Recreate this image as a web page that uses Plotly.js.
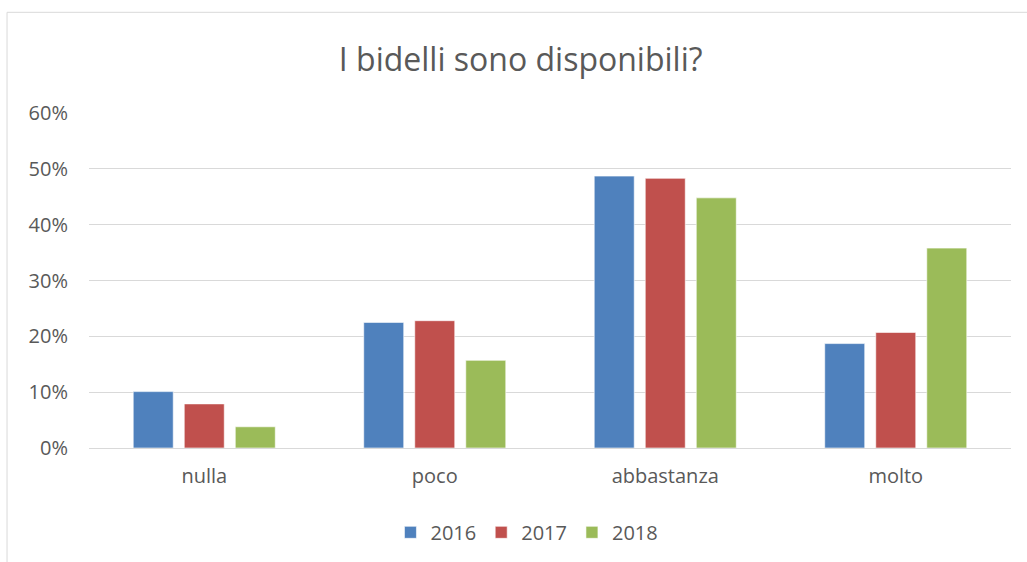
<!DOCTYPE html>
<html>
<head>
<meta charset="utf-8">
<script src="https://cdn.plot.ly/plotly-3.0.1.min.js"></script>
<style>html,body{margin:0;padding:0;background:#fff;}#chart{width:1027px;height:562px;}</style>
</head>
<body>
<div id="chart"></div>
<script>
const categories = ["nulla", "poco", "abbastanza", "molto"];
const seriesNames = ["2016", "2017", "2018"];
const values2016 = [0.101, 0.225, 0.487, 0.187];
const values2017 = [0.079, 0.228, 0.483, 0.207];
const values2018 = [0.038, 0.157, 0.448, 0.358];
const yTicks = [0, 0.1, 0.2, 0.3, 0.4, 0.5, 0.6];
const yTickLabels = ["0%", "10%", "20%", "30%", "40%", "50%", "60%"];
const colors = ["#4F81BD", "#C0504D", "#9BBB59"];

const allValues = [values2016, values2017, values2018];
const traces = allValues.map((vals, i) => ({
  type: "bar",
  name: seriesNames[i],
  x: categories,
  y: vals,
  marker: {color: colors[i], line: {color: "rgba(255,255,255,0.6)", width: 1}},
  hoverinfo: "x+y+name"
}));

const font = {family: "Open Sans, Liberation Sans, sans-serif", color: "#595959", size: 20};

const layout = {
  width: 1027,
  height: 562,
  margin: {l: 89, r: 16, t: 113, b: 113},
  paper_bgcolor: "#ffffff",
  plot_bgcolor: "#ffffff",
  font: font,
  title: {
    text: "I bidelli sono disponibili?",
    font: {family: "Open Sans, Liberation Sans, sans-serif", size: 32, color: "#595959"},
    x: 0.507, xanchor: "center",
    y: 0.893, yanchor: "middle"
  },
  barmode: "group",
  bargap: 0.336,
  bargroupgap: 0.216,
  xaxis: {
    type: "category",
    showgrid: false,
    showline: true,
    linecolor: "#D9D9D9",
    linewidth: 1,
    ticks: "",
    tickfont: font,
    ticklabelstandoff: 10,
    fixedrange: true
  },
  yaxis: {
    range: [0, 0.6],
    tickvals: yTicks,
    ticktext: yTickLabels,
    showgrid: true,
    gridcolor: "#D9D9D9",
    gridwidth: 1,
    zeroline: false,
    showline: false,
    ticks: "",
    ticklen: 0,
    tickfont: font,
    ticklabelstandoff: 20,
    fixedrange: true,
    automargin: false
  },
  showlegend: true,
  legend: {
    orientation: "h",
    x: 0.475, xanchor: "center",
    y: -0.248, yanchor: "middle",
    font: font,
    itemwidth: 30,
    traceorder: "normal"
  },
  shapes: [{
    type: "rect",
    xref: "paper", yref: "paper",
    x0: -0.0889, x1: 1.05,
    y0: -0.4, y1: 1.3006,
    line: {color: "#D9D9D9", width: 1},
    fillcolor: "rgba(0,0,0,0)",
    layer: "below"
  }]
};

Plotly.newPlot("chart", traces, layout, {displayModeBar: false, staticPlot: false});
</script>
</body>
</html>
